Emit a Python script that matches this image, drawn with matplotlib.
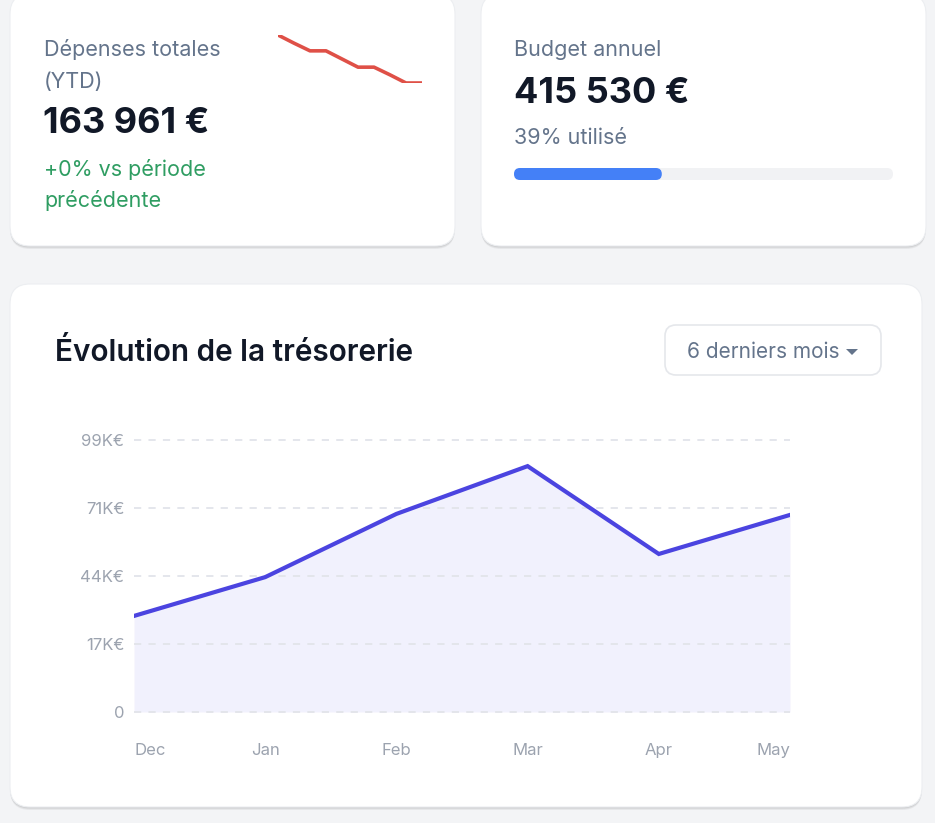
import matplotlib.pyplot as plt
from matplotlib.patches import FancyBboxPatch
import numpy as np

plt.rcParams['font.family'] = ['Inter', 'DejaVu Sans']

# === data ===
months = ["Dec", "Jan", "Feb", "Mar", "Apr", "May"]
treasury_k = [28.3, 43.9, 69.3, 88.5, 53.2, 68.9]   # K€
y_min, y_max = -10.3, 99.0
y_tick_labels = ["0", "17K€", "44K€", "71K€", "99K€"]

spark_values = [100, 83, 67, 67, 50, 33, 33, 17, 0, 0]

spend_total = "163 961 €"
budget_total = "415 530 €"
budget_used = 0.39

W, H = 935, 823
fig = plt.figure(figsize=(W / 100, H / 100), dpi=100)
fig.patch.set_facecolor("#f3f4f6")

# background axes in pixel coordinates
bg = fig.add_axes([0, 0, 1, 1])
bg.set_xlim(0, W)
bg.set_ylim(H, 0)
bg.axis("off")


def card(x0, y0, x1, y1, r=20):
    # soft shadow
    for off, a in [(3, 0.05), (2, 0.06), (1, 0.07)]:
        bg.add_patch(FancyBboxPatch((x0, y0 + off), x1 - x0, y1 - y0,
                                    boxstyle=f"round,pad=0,rounding_size={r}",
                                    fc="black", ec="none", alpha=a, zorder=1))
    bg.add_patch(FancyBboxPatch((x0, y0), x1 - x0, y1 - y0,
                                boxstyle=f"round,pad=0,rounding_size={r}",
                                fc="white", ec="#eceef1", lw=0.8, zorder=2))


card(10, -6, 455, 246)
card(481, -6, 926, 246)
card(10, 284, 922, 807)

slate = "#64748b"
dark = "#111827"
body = 15.5

# card 1
bg.text(44, 56, "Dépenses totales", fontsize=body, color=slate, va="baseline", zorder=3)
bg.text(44, 88, "(YTD)", fontsize=body, color=slate, va="baseline", zorder=3)
bg.text(43, 133, spend_total, fontsize=26, fontweight="bold", color=dark, va="baseline", zorder=3)
bg.text(44, 176, "+0% vs période", fontsize=body, color="#2f9d62", va="baseline", zorder=3)
bg.text(44, 207, "précédente", fontsize=body, color="#2f9d62", va="baseline", zorder=3)

# sparkline
sp = fig.add_axes([278 / W, 1 - 83 / H, (422 - 278) / W, (83 - 35) / H])
sp.plot(range(len(spark_values)), spark_values, color="#df5047", lw=2.6, solid_capstyle="butt")
sp.set_xlim(0, len(spark_values) - 1)
sp.set_ylim(min(spark_values), max(spark_values))
sp.axis("off")
sp.patch.set_alpha(0)

# card 2
bg.text(514, 56, "Budget annuel", fontsize=body, color=slate, va="baseline", zorder=3)
bg.text(514, 103, budget_total, fontsize=26, fontweight="bold", color=dark, va="baseline", zorder=3)
bg.text(514, 144, f"{budget_used:.0%} utilisé", fontsize=body, color=slate, va="baseline", zorder=3)
bar_x0, bar_x1, bar_y, bar_h = 514, 893, 168, 12
bg.add_patch(FancyBboxPatch((bar_x0, bar_y), bar_x1 - bar_x0, bar_h,
                            boxstyle="round,pad=0,rounding_size=6",
                            fc="#f1f2f4", ec="none", zorder=3))
bg.add_patch(FancyBboxPatch((bar_x0, bar_y), (bar_x1 - bar_x0) * budget_used, bar_h,
                            boxstyle="round,pad=0,rounding_size=6",
                            fc="#4480f7", ec="none", zorder=4))

# card 3 header
bg.text(55, 361, "Évolution de la trésorerie", fontsize=21.4, fontweight="semibold",
        color=dark, va="baseline", zorder=3)
bg.add_patch(FancyBboxPatch((665, 325), 216, 50,
                            boxstyle="round,pad=0,rounding_size=11",
                            fc="white", ec="#e5e7eb", lw=1.2, zorder=3))
bg.text(687, 358, "6 derniers mois", fontsize=15, color=slate, va="baseline", zorder=4)
bg.add_patch(plt.Polygon([[846, 349], [858, 349], [852, 355]], closed=True,
                         fc=slate, ec="none", zorder=4))

# === treasury chart ===
ax = fig.add_axes([134 / W, 1 - 712 / H, (790 - 134) / W, (712 - 440) / H])
ax.patch.set_alpha(0)
x = np.arange(len(months))
ax.fill_between(x, treasury_k, y_min, color="#4f46e5", alpha=0.075, lw=0)
ax.plot(x, treasury_k, color="#4b44e0", lw=3, solid_joinstyle="miter", zorder=3)
ax.set_xlim(0, len(months) - 1)
ax.set_ylim(y_min, y_max)

ticks = np.linspace(y_min, y_max, len(y_tick_labels))
for t in ticks:
    ax.axhline(t, color="#e2e4ea", lw=1.3, ls=(0, (4, 4)), zorder=1, clip_on=False)
ax.set_yticks(ticks)
ax.set_yticklabels(y_tick_labels)
ax.set_xticks(x)
ax.set_xticklabels(months)
for i, lab in enumerate(ax.get_xticklabels()):
    if i == 0:
        lab.set_ha("left")
    elif i == len(months) - 1:
        lab.set_ha("right")
ax.tick_params(axis="both", length=0, colors="#9ca3af", labelsize=12)
ax.tick_params(axis="y", pad=7)
ax.tick_params(axis="x", pad=22)
for s in ax.spines.values():
    s.set_visible(False)

plt.savefig("out.png", dpi=100)
